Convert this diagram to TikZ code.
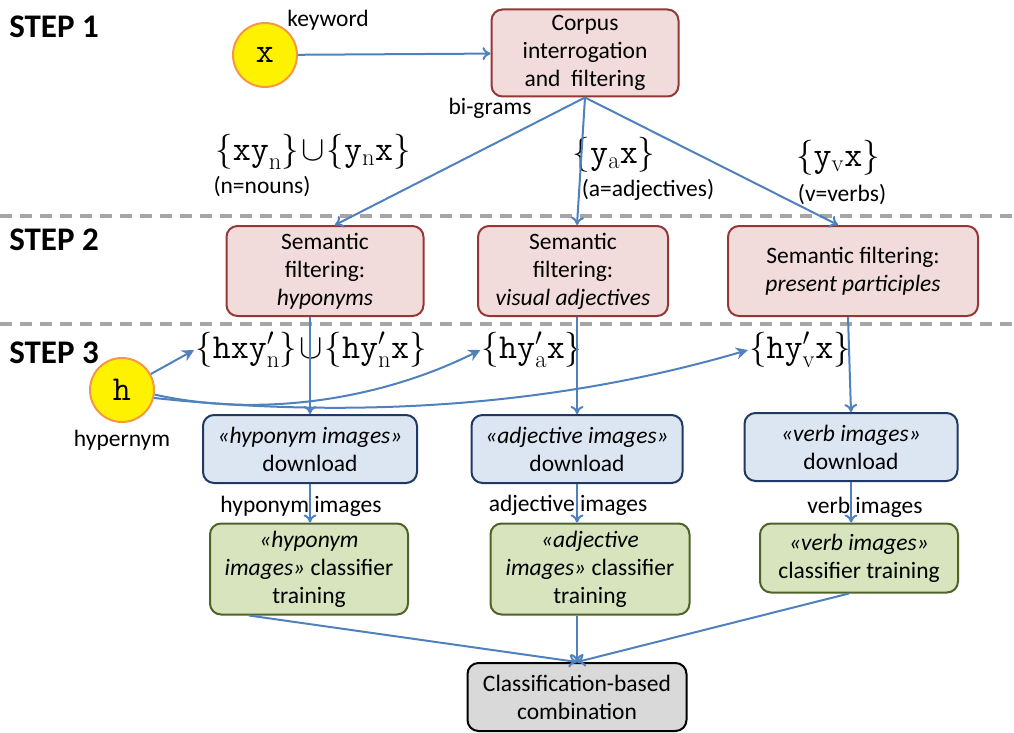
\RequirePackage{fix-cm}
\documentclass[tikz,border=0pt]{standalone}
\usepackage[no-math]{fontspec}
\setmainfont{Carlito}
\usetikzlibrary{arrows.meta}

\definecolor{arrowblue}{RGB}{79,129,189}
\definecolor{pinkfill}{RGB}{242,220,219}
\definecolor{pinkline}{RGB}{149,55,53}
\definecolor{bluefill}{RGB}{220,230,242}
\definecolor{blueline}{RGB}{31,56,100}
\definecolor{greenfill}{RGB}{215,228,189}
\definecolor{greenline}{RGB}{79,98,40}
\definecolor{dashgray}{RGB}{166,166,166}
\definecolor{circline}{RGB}{247,150,70}

\newcommand{\bodyfont}{\fontsize{23.5}{28}\selectfont}
\newcommand{\setfont}{\fontsize{35}{40}\selectfont}

\begin{document}
\begin{tikzpicture}[x=1pt,y=-1pt,
  every node/.style={font=\bodyfont},
  box/.style={draw, rounded corners=11pt, line width=2pt, align=center, inner sep=0pt},
  corpusbox/.style={box, fill=pinkfill, draw=pinkline},
  dlbox/.style={box, fill=bluefill, draw=blueline, minimum height=68pt},
  trainbox/.style={box, fill=greenfill, draw=greenline},
  word/.style={circle, fill=yellow, draw=circline, line width=2pt, minimum size=64pt, inner sep=0pt},
  steplabel/.style={font=\fontsize{33}{36}\selectfont\bfseries},
  setlabel/.style={font=\setfont, inner sep=1pt},
  flow/.style={draw=arrowblue, line width=2pt, -{To[length=8pt,width=13pt]}},
  hflow/.style={draw=arrowblue, line width=2pt, -{Stealth[length=12pt,width=12pt]}},
  separator/.style={draw=dashgray, line width=4pt, dash pattern=on 12pt off 8pt}]
\useasboundingbox (0,0) rectangle (1014,733);

\node[steplabel] (s1) at (54,27) {STEP 1};
\node[steplabel] (s2) at (54,240) {STEP 2};
\node[steplabel] (s3) at (54,353) {STEP 3};

\draw[separator] (0,216) -- (1014,216);
\draw[separator] (0,324) -- (1014,324);

% step 1
\node[word] (x) at (265,55) {\setfont$\mathtt{x}$};
\node (kw) at (328,20) {keyword};
\node[corpusbox, minimum width=187pt, minimum height=87pt] (corp) at (585,53)
  {Corpus\\interrogation\\and\ \ filtering};
\node (bigr) at (490,108) {bi-grams};
\draw[flow] (x) -- (corp);

\node[setlabel] (bgA) at (313,152) {$\bigl\{\mathtt{xy}_{\mathrm{n}}\bigr\}\!\cup\!\bigl\{\mathtt{y}_{\mathrm{n}}\mathtt{x}\bigr\}$};
\node (nA) at (262,187) {(n=nouns)};
\node[setlabel] (bgB) at (614,155) {$\bigl\{\mathtt{y}_{\mathrm{a}}\mathtt{x}\bigr\}$};
\node (nB) at (648,190) {(a=adjectives)};
\node[setlabel] (bgC) at (838,158) {$\bigl\{\mathtt{y}_{\mathrm{v}}\mathtt{x}\bigr\}$};
\node (nC) at (842,195) {(v=verbs)};

% step 2
\node[corpusbox, minimum width=197pt, minimum height=90pt] (semA) at (325,271)
  {Semantic\\filtering:\\\textit{hyponyms}};
\node[corpusbox, minimum width=190pt, minimum height=90pt] (semB) at (573,271)
  {Semantic\\filtering:\\\textit{visual adjectives}};
\node[corpusbox, minimum width=250pt, minimum height=90pt] (semC) at (853,271)
  {Semantic filtering:\\\textit{present participles}};

\draw[flow] (corp.south) -- ([xshift=10pt]semA.north);
\draw[flow] (corp.south) -- ([xshift=4pt]semB.north);
\draw[flow] (corp.south) -- ([xshift=-15pt]semC.north);

% step 3
\node[word] (h) at (122,390) {\setfont$\mathtt{h}$};
\node (hyp) at (122,440) {hypernym};
\node[setlabel] (hsA) at (311,350) {$\bigl\{\mathtt{hxy}'_{\mathrm{n}}\bigr\}\!\cup\!\bigl\{\mathtt{hy}'_{\mathrm{n}}\mathtt{x}\bigr\}$};
\node[setlabel] (hsB) at (532,350) {$\bigl\{\mathtt{hy}'_{\mathrm{a}}\mathtt{x}\bigr\}$};
\node[setlabel] (hsC) at (800,350) {$\bigl\{\mathtt{hy}'_{\mathrm{v}}\mathtt{x}\bigr\}$};

\node[dlbox, minimum width=214pt] (dlA) at (310,449) {\textit{«hyponym images»}\\download};
\node[dlbox, minimum width=211pt] (dlB) at (577,449) {\textit{«adjective images»}\\download};
\node[dlbox, minimum width=213pt] (dlC) at (851,447) {\textit{«verb images»}\\download};

\draw[hflow] (h) -- (hsA.west);
\draw[hflow] (h.-8) .. controls (260,418) and (380,400) .. (hsB.west);
\draw[hflow] (h.-14) .. controls (360,420) and (560,405) .. (hsC.west);

\draw[flow] (semA.south -| dlA.north) -- (dlA.north);
\draw[flow] (semB.south -| dlB.north) -- (dlB.north);
\draw[flow] ([xshift=-5pt]semC.south) -- (dlC.north);

\node (imA) at (301,506) {hyponym images};
\node (imB) at (568,505) {adjective images};
\node (imC) at (865,507) {verb images};

\node[trainbox, minimum width=198pt, minimum height=91pt] (trA) at (309,569)
  {\textit{«hyponym}\\\textit{images»} classifier\\training};
\node[trainbox, minimum width=199pt, minimum height=91pt] (trB) at (590,569)
  {\textit{«adjective}\\\textit{images»} classifier\\training};
\node[trainbox, minimum width=198pt, minimum height=69pt] (trC) at (859,558)
  {\textit{«verb images»}\\classifier training};

\draw[flow] (dlA.south) -- (dlA.south |- trA.north);
\draw[flow] (dlB.south) -- (dlB.south |- trB.north);
\draw[flow] (dlC.south) -- (dlC.south |- trC.north);

\node[box, fill=black!15, draw=black, minimum width=219pt, minimum height=68pt] (comb) at (577,697)
  {Classification-based\\combination};

\draw[flow] ([xshift=-60pt]trA.south) -- (comb.north);
\draw[flow] (trB.south -| comb.north) -- (comb.north);
\draw[flow] ([xshift=-10pt]trC.south) -- (comb.north);
\end{tikzpicture}
\end{document}
